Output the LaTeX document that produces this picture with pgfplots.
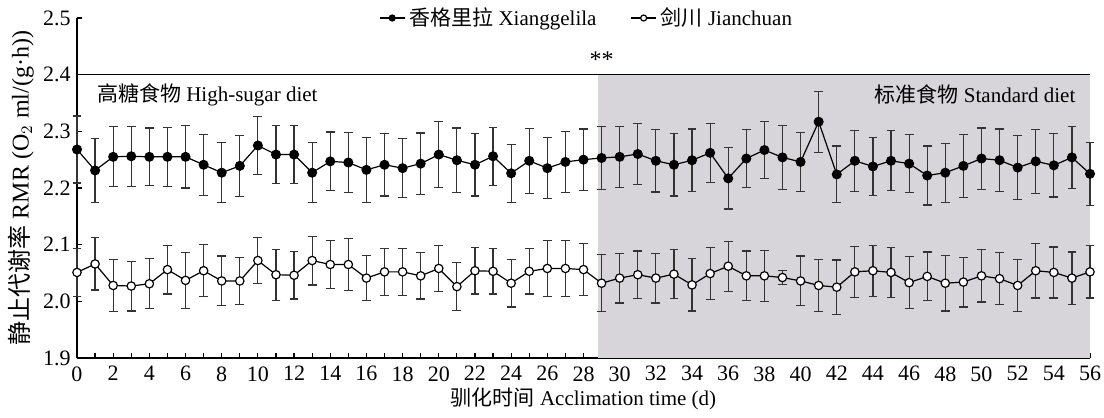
\documentclass[border=0pt]{standalone}
\usepackage{fontspec}
\setmainfont{Liberation Serif}
\newfontfamily\cjk{Noto Sans CJK SC}
\usepackage{pgfplots}
\pgfplotsset{compat=1.18}
\usepackage{pgfplotstable}
\definecolor{shade}{RGB}{215,213,217}
\pgfplotstableread{
x b be w we
0 2.268 0.059 2.051 0.042
1 2.231 0.056 2.066 0.046
2 2.255 0.053 2.028 0.046
3 2.256 0.053 2.027 0.044
4 2.255 0.051 2.031 0.044
5 2.255 0.052 2.056 0.043
6 2.255 0.055 2.037 0.049
7 2.241 0.054 2.054 0.046
8 2.227 0.053 2.036 0.044
9 2.239 0.054 2.036 0.041
10 2.275 0.051 2.072 0.041
11 2.259 0.051 2.047 0.045
12 2.259 0.051 2.046 0.042
13 2.227 0.053 2.072 0.043
14 2.247 0.052 2.065 0.042
15 2.245 0.053 2.065 0.046
16 2.232 0.057 2.041 0.040
17 2.241 0.055 2.052 0.041
18 2.235 0.052 2.052 0.041
19 2.243 0.054 2.045 0.041
20 2.259 0.058 2.058 0.041
21 2.249 0.057 2.026 0.042
22 2.241 0.055 2.054 0.041
23 2.256 0.051 2.053 0.040
24 2.226 0.051 2.032 0.042
25 2.248 0.057 2.053 0.040
26 2.235 0.054 2.058 0.050
27 2.246 0.054 2.058 0.050
28 2.250 0.054 2.056 0.046
29 2.253 0.055 2.032 0.050
30 2.255 0.054 2.041 0.044
31 2.260 0.054 2.047 0.042
32 2.248 0.055 2.041 0.044
33 2.241 0.055 2.048 0.043
34 2.249 0.055 2.029 0.046
35 2.262 0.052 2.049 0.046
36 2.217 0.054 2.062 0.044
37 2.252 0.051 2.045 0.044
38 2.267 0.050 2.045 0.045
39 2.254 0.056 2.042 0.012
40 2.246 0.052 2.036 0.044
41 2.317 0.054 2.028 0.046
42 2.224 0.050 2.025 0.048
43 2.248 0.054 2.052 0.045
44 2.238 0.051 2.054 0.045
45 2.248 0.053 2.051 0.044
46 2.243 0.051 2.033 0.046
47 2.222 0.052 2.044 0.043
48 2.227 0.052 2.032 0.049
49 2.239 0.056 2.034 0.044
50 2.252 0.054 2.045 0.046
51 2.249 0.055 2.040 0.046
52 2.236 0.056 2.028 0.046
53 2.247 0.056 2.054 0.048
54 2.240 0.056 2.051 0.045
55 2.254 0.055 2.041 0.046
56 2.225 0.056 2.052 0.046
}\datatable
\begin{document}
\fontsize{10.5}{12}\selectfont
\begin{tikzpicture}
\begin{axis}[
  name=main,
  scale only axis,
  width=506.5pt, height=170pt,
  xmin=0, xmax=56, ymin=1.9, ymax=2.5,
  axis x line*=bottom, axis y line*=left,
  axis line style={line width=0.8pt},
  clip=false,
  tick align=inside,
  major tick length=2.5pt, minor tick length=2.5pt,
  every tick/.style={black, line width=0.6pt},
  xtick={0,2,...,56},
  minor xtick={1,3,...,55},
  ytick={1.9,2.0,2.1,2.2,2.3,2.4,2.5},
  tick label style={font=\fontsize{11}{12}\selectfont},
  xticklabel style={yshift=-0.5pt},
  yticklabel style={xshift=0.5pt, /pgf/number format/.cd, fixed, fixed zerofill, precision=1},
  /pgf/number format/assume math mode=true,
  xlabel={{\cjk 驯化时间} Acclimation time (d)},
  ylabel={{\cjk 静止代谢率} RMR (O$_2$ ml/(g·h))},
  every axis x label/.style={at={(rel axis cs:0.5,0)}, yshift=-20.5pt, anchor=center},
  every axis y label/.style={at={(rel axis cs:0,0.5)}, xshift=-28pt, rotate=90, anchor=center, font=\fontsize{12}{13}\selectfont},
  legend style={at={(0.504,1)}, anchor=center, draw=none, fill=none,
    legend columns=2, /tikz/every even column/.append style={column sep=15pt},
    inner sep=1pt},
  legend image code/.code={\draw[mark repeat=2,mark phase=2,mark size=1.5pt] plot coordinates {(0cm,0cm) (0.22cm,0cm) (0.44cm,0cm)};},
  error bars/error bar style={line width=0.6pt, black!80},
  error bars/error mark options={rotate=90, mark size=2.2pt, line width=0.6pt, black!80},
]
\addplot[fill=shade, draw=none, forget plot] coordinates {(28.8,1.9) (56,1.9) (56,2.4) (28.8,2.4)} -- cycle;
\addplot[black, line width=0.8pt, forget plot] coordinates {(0,2.4) (56,2.4)};
\addplot[black, line width=0.6pt, mark=*, mark size=2.2pt, mark options={fill=black},
  error bars/.cd, y dir=both, y explicit]
  table[x=x, y=b, y error=be] {\datatable};
\addlegendentry{{\cjk 香格里拉} Xianggelila}
\addplot[black, line width=0.6pt, mark=*, mark size=2.1pt, mark options={fill=white},
  error bars/.cd, y dir=both, y explicit]
  table[x=x, y=w, y error=we] {\datatable};
\addlegendentry{{\cjk 剑川} Jianchuan}
\node[anchor=west] at (axis cs:0.7,2.365) {{\cjk 高糖食物} High-sugar diet};
\node[anchor=east] at (axis cs:55.6,2.365) {{\cjk 标准食物} Standard diet};
\node[font=\fontsize{12}{13}\selectfont] at (axis cs:29,2.426) {**};
\end{axis}
\pgfresetboundingbox
\path[use as bounding box] ([xshift=-38.5pt,yshift=-29.5pt]main.south west) rectangle ([xshift=7pt,yshift=9pt]main.north east);
\end{tikzpicture}
\end{document}
